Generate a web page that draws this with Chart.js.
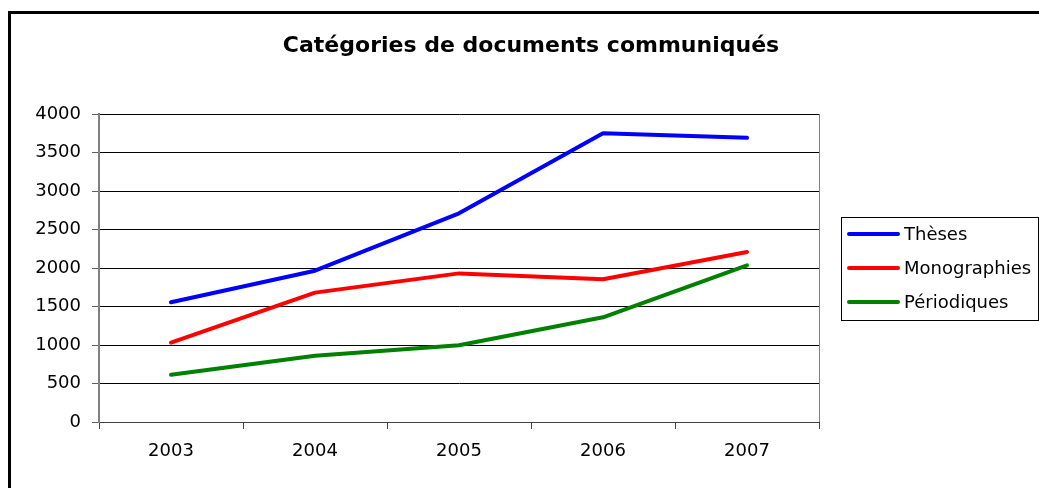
<!DOCTYPE html>
<html>
<head>
<meta charset="UTF-8">
<title>Catégories de documents communiqués</title>
<script src="https://cdn.jsdelivr.net/npm/chart.js"></script>
<style>
body { margin: 0; background: #fff; }
#cadre {
    position: absolute;
    left: 8px;
    top: 11px;
    width: 1200px;
    height: 600px;
    border: 3px solid #000;
}
#graphe {
    position: absolute;
    left: 0;
    top: 0;
}
</style>
</head>
<body>
<div id="cadre"></div>
<canvas id="graphe" width="1039" height="488"></canvas>
<script>
const annees = ['2003', '2004', '2005', '2006', '2007'];
const theses = [1555, 1965, 2710, 3750, 3690];
const monographies = [1030, 1680, 1930, 1853, 2208];
const periodiques = [614, 860, 996, 1360, 2035];
const titre = 'Catégories de documents communiqués';

Chart.defaults.font.family = 'DejaVu Sans';
Chart.defaults.color = '#000';

// cadre droit de la zone de tracé
const bordZone = {
    id: 'bordZone',
    beforeDatasetsDraw(chart) {
        const a = chart.chartArea;
        const ctx = chart.ctx;
        ctx.save();
        ctx.strokeStyle = '#808080';
        ctx.lineWidth = 1;
        ctx.beginPath();
        ctx.moveTo(a.right + 0.5, a.top);
        ctx.lineTo(a.right + 0.5, a.bottom);
        ctx.stroke();
        ctx.restore();
    }
};

// titre centré sur tout le cadre, pas seulement sur la zone de tracé
const titreCadre = {
    id: 'titreCadre',
    afterDraw(chart) {
        const ctx = chart.ctx;
        ctx.save();
        ctx.font = 'bold 22px "DejaVu Sans"';
        ctx.fillStyle = '#000';
        ctx.textAlign = 'center';
        ctx.textBaseline = 'middle';
        ctx.fillText(titre, 531, 46);
        ctx.restore();
    }
};

// legende encadree façon Excel
const legende = {
    id: 'legende',
    afterDraw(chart) {
        const a = chart.chartArea;
        const ctx = chart.ctx;
        const x0 = a.right + 22;
        const w = 197, h = 103;
        const y0 = Math.round((a.top + a.bottom) / 2 - h / 2);
        ctx.save();
        ctx.strokeStyle = '#000';
        ctx.lineWidth = 1;
        ctx.strokeRect(x0 + 0.5, y0 + 0.5, w, h);
        ctx.font = '18px "DejaVu Sans"';
        ctx.textBaseline = 'middle';
        ctx.lineCap = 'round';
        chart.data.datasets.forEach((ds, i) => {
            const y = y0 + 17 + i * 34;
            ctx.strokeStyle = ds.borderColor;
            ctx.lineWidth = 4;
            ctx.beginPath();
            ctx.moveTo(x0 + 8, y);
            ctx.lineTo(x0 + 57, y);
            ctx.stroke();
            ctx.fillStyle = '#000';
            ctx.fillText(ds.label, x0 + 63, y + 1);
        });
        ctx.restore();
    }
};

new Chart(document.getElementById('graphe'), {
    type: 'line',
    data: {
        labels: annees,
        datasets: [
            { label: 'Thèses', data: theses, borderColor: '#0000ff' },
            { label: 'Monographies', data: monographies, borderColor: '#ff0000' },
            { label: 'Périodiques', data: periodiques, borderColor: '#008000' }
        ]
    },
    options: {
        responsive: false,
        animation: false,
        layout: { padding: { left: 0, right: 220, top: 114, bottom: 0 } },
        elements: {
            line: { borderWidth: 4, tension: 0, borderCapStyle: 'round', borderJoinStyle: 'round' },
            point: { radius: 0 }
        },
        plugins: {
            legend: { display: false },
            tooltip: { enabled: false },
            title: { display: false }
        },
        scales: {
            x: {
                offset: true,
                afterFit(s) { s.height = 66; },
                grid: {
                    offset: true,
                    drawOnChartArea: false,
                    drawTicks: true,
                    tickLength: 7,
                    tickColor: '#404040'
                },
                border: { color: '#404040', width: 1 },
                ticks: { font: { size: 18 }, padding: 12 }
            },
            y: {
                min: 0,
                max: 4000,
                afterFit(s) { s.width = 99; },
                grid: {
                    color: '#000',
                    lineWidth: 1,
                    tickLength: 7,
                    tickColor: '#606060'
                },
                border: { color: '#808080', width: 2 },
                ticks: {
                    stepSize: 500,
                    font: { size: 18 },
                    padding: 11,
                    callback: v => String(v)
                }
            }
        }
    },
    plugins: [bordZone, titreCadre, legende]
});
</script>
</body>
</html>
